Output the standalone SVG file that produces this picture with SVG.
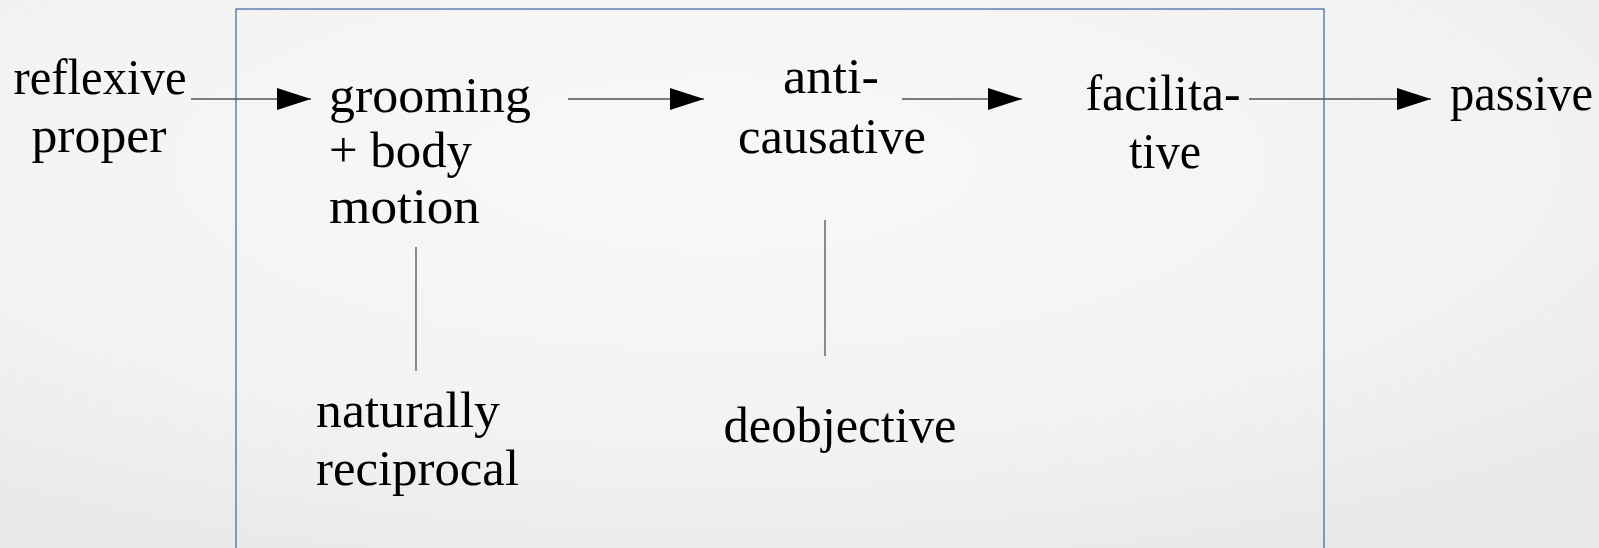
<svg xmlns="http://www.w3.org/2000/svg" width="1599" height="548" viewBox="0 0 1599 548">
<defs>
<radialGradient id="bg" cx="0.45" cy="0.3" r="0.8">
<stop offset="0" stop-color="#f8f8f8"/>
<stop offset="0.6" stop-color="#f3f3f3"/>
<stop offset="1" stop-color="#e8e8e8"/>
</radialGradient>
<marker id="ah" viewBox="0 0 34 22" refX="34" refY="11" markerWidth="34" markerHeight="22" markerUnits="userSpaceOnUse" orient="auto">
<path d="M0,0 L34,11 L0,22 Z" fill="#000"/>
</marker>
<style>
text{font-family:"Liberation Serif","DejaVu Serif",serif;font-size:50px;fill:#000}
.m{text-anchor:middle}
.arrow{stroke:#555;stroke-width:1.4;fill:none;marker-end:url(#ah)}
.link{stroke:#444;stroke-width:1.2;fill:none}
</style>
</defs>
<rect x="0" y="0" width="1599" height="548" fill="url(#bg)"/>
<rect id="frame" x="236" y="9" width="1088" height="560" fill="none" stroke="#3465b0" stroke-width="1.2"/>
<g id="connectors">
<line class="arrow" x1="191" y1="99" x2="311" y2="99"/>
<line class="arrow" x1="568" y1="99" x2="704" y2="99"/>
<line class="arrow" x1="902" y1="99" x2="1022" y2="99"/>
<line class="arrow" x1="1249" y1="99" x2="1431" y2="99"/>
<line class="link" x1="416" y1="247" x2="416" y2="371"/>
<line class="link" x1="825" y1="220" x2="825" y2="356"/>
</g>
<g id="reflexive-proper"><text class="m" x="100" y="94" textLength="173" lengthAdjust="spacingAndGlyphs">reflexive</text><text class="m" x="99" y="152" textLength="135" lengthAdjust="spacingAndGlyphs">proper</text></g>
<g id="grooming"><text x="329" y="112" textLength="202" lengthAdjust="spacingAndGlyphs">grooming</text><text x="329" y="167" textLength="143" lengthAdjust="spacingAndGlyphs">+ body</text><text x="329" y="223" textLength="151" lengthAdjust="spacingAndGlyphs">motion</text></g>
<g id="anticausative"><text class="m" x="831" y="93" textLength="96" lengthAdjust="spacingAndGlyphs">anti-</text><text class="m" x="832" y="153" textLength="188" lengthAdjust="spacingAndGlyphs">causative</text></g>
<g id="facilitative"><text class="m" x="1163" y="110" textLength="155" lengthAdjust="spacingAndGlyphs">facilita-</text><text class="m" x="1165" y="168" textLength="72" lengthAdjust="spacingAndGlyphs">tive</text></g>
<g id="passive"><text x="1450" y="110" textLength="143" lengthAdjust="spacingAndGlyphs">passive</text></g>
<g id="naturally-reciprocal"><text x="316" y="427" textLength="184" lengthAdjust="spacingAndGlyphs">naturally</text><text x="316" y="485" textLength="203" lengthAdjust="spacingAndGlyphs">reciprocal</text></g>
<g id="deobjective"><text class="m" x="840" y="442" textLength="233" lengthAdjust="spacingAndGlyphs">deobjective</text></g>
</svg>
